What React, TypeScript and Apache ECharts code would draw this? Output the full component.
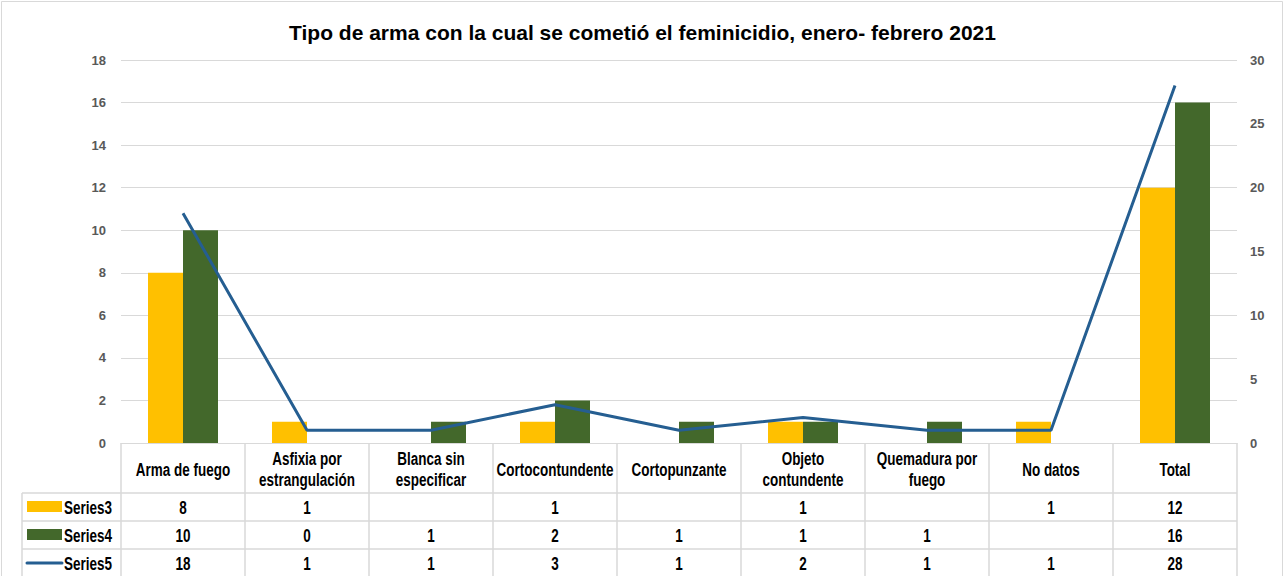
import React, { useEffect, useRef } from "react";
import * as echarts from "echarts";

const TITLE = "Tipo de arma con la cual se cometió el feminicidio, enero- febrero 2021";
const categories = [
  "Arma de fuego",
  "Asfixia por\nestrangulación",
  "Blanca sin\nespecificar",
  "Cortocontundente",
  "Cortopunzante",
  "Objeto\ncontundente",
  "Quemadura por\nfuego",
  "No datos",
  "Total",
];
const seriesNames = ["Series3", "Series4", "Series5"];
const series3: (number | null)[] = [8, 1, null, 1, null, 1, null, 1, 12];
const series4: (number | null)[] = [10, 0, 1, 2, 1, 1, 1, null, 16];
const series5: (number | null)[] = [18, 1, 1, 3, 1, 2, 1, 1, 28];

const YELLOW = "#FFC000";
const GREEN = "#43682B";
const BLUE = "#255E91";
const GRID = "#D9D9D9";
const TABLE_FONT = "'Liberation Sans', Arial, sans-serif";
const AXIS_FONT = "'Liberation Sans', 'Open Sans', sans-serif";
const SQUEEZE = 0.71;

export default function App() {
  const ref = useRef<HTMLDivElement>(null);
  useEffect(() => {
    if (!ref.current) return;
    const chart = echarts.init(ref.current, undefined, { renderer: "svg" });
    const axisLabel = {
      color: "#595959",
      fontSize: 13,
      fontWeight: "bold" as const,
      fontFamily: AXIS_FONT,
    };
    chart.setOption({
      animation: false,
      backgroundColor: "#fff",
      title: {
        text: TITLE,
        left: "center",
        top: 17,
        textStyle: { fontSize: 21, fontWeight: "bold", color: "#000", fontFamily: AXIS_FONT },
      },
      grid: { left: 121, right: 48, top: 60, bottom: 133 },
      xAxis: {
        type: "category",
        data: categories,
        axisLabel: { show: false },
        axisTick: { show: false },
        axisLine: { lineStyle: { color: GRID, width: 1 } },
      },
      yAxis: [
        {
          type: "value",
          min: 0,
          max: 18,
          interval: 2,
          axisLabel: { ...axisLabel, margin: 15 },
          splitLine: { lineStyle: { color: GRID, width: 1 } },
          axisLine: { show: false },
          axisTick: { show: false },
        },
        {
          type: "value",
          min: 0,
          max: 30,
          interval: 5,
          axisLabel: { ...axisLabel, margin: 13 },
          splitLine: { show: false },
          axisLine: { show: false },
          axisTick: { show: false },
        },
      ],
      series: [
        { name: seriesNames[0], type: "bar", data: series3, barWidth: 35, barGap: "0%", itemStyle: { color: YELLOW } },
        { name: seriesNames[1], type: "bar", data: series4, barWidth: 35, barGap: "0%", itemStyle: { color: GREEN } },
        {
          name: seriesNames[2],
          type: "line",
          yAxisIndex: 1,
          data: series5,
          symbol: "none",
          lineStyle: { color: BLUE, width: 3 },
        },
      ],
    });

    // Data table below the axis
    const c0 = chart.convertToPixel({ xAxisIndex: 0 }, 0) as number;
    const c1 = chart.convertToPixel({ xAxisIndex: 0 }, 1) as number;
    const band = c1 - c0;
    const y0 = Math.round(chart.convertToPixel({ yAxisIndex: 0 }, 0) as number);
    const leftEdge = Math.round(c0 - band / 2);
    const rightEdge = Math.round(c0 + band * (categories.length - 0.5));
    const headerH = 50;
    const rowH = 28;
    const tableLeft = 22;
    const rows = [series3, series4, series5];
    const g: any[] = [];
    const lineStyle = { stroke: GRID, lineWidth: 1.5 };
    const bottom = y0 + headerH + rowH * 3 + 5;
    g.push({ type: "rect", shape: { x: 1.5, y: 1.5, width: 1281, height: 580 }, style: { fill: "none", stroke: GRID, lineWidth: 1 }, silent: true });
    for (let r = 0; r <= rows.length; r++) {
      const y = y0 + headerH + r * rowH;
      g.push({ type: "line", shape: { x1: tableLeft, y1: y, x2: rightEdge, y2: y }, style: lineStyle });
    }
    g.push({ type: "line", shape: { x1: tableLeft, y1: y0 + headerH, x2: tableLeft, y2: bottom }, style: lineStyle });
    for (let i = 0; i <= categories.length; i++) {
      const x = Math.round(leftEdge + i * band);
      g.push({ type: "line", shape: { x1: x, y1: y0, x2: x, y2: bottom }, style: lineStyle });
    }
    const textEl = (text: string, x: number, y: number, align: string, fontSize: number) => ({
      type: "text",
      x,
      y,
      scaleX: SQUEEZE,
      style: {
        text,
        fill: "#000",
        fontSize,
        fontWeight: "bold",
        fontFamily: TABLE_FONT,
        align,
        verticalAlign: "middle",
        lineHeight: 21,
      },
    });
    categories.forEach((cat, i) => {
      const cx = chart.convertToPixel({ xAxisIndex: 0 }, i) as number;
      g.push(textEl(cat, cx, y0 + headerH / 2 + 1, "center", 19));
    });
    rows.forEach((vals, r) => {
      const cy = y0 + headerH + r * rowH + rowH / 2;
      vals.forEach((v, i) => {
        if (v === null) return;
        const cx = chart.convertToPixel({ xAxisIndex: 0 }, i) as number;
        g.push(textEl(String(v), cx, cy, "center", 19));
      });
      if (r === 0 || r === 1) {
        g.push({ type: "rect", shape: { x: 27, y: cy - 6, width: 35, height: 11 }, style: { fill: r === 0 ? YELLOW : GREEN } });
      } else {
        g.push({ type: "line", shape: { x1: 27, y1: cy, x2: 62, y2: cy }, style: { stroke: BLUE, lineWidth: 3, lineCap: "round" } });
      }
      g.push(textEl(seriesNames[r], 64, cy, "left", 19));
    });
    chart.setOption({ graphic: g });

    return () => chart.dispose();
  }, []);
  return (
    <div
      ref={ref}
      style={{ position: "fixed", left: 0, top: 0, width: 1285, height: 576 }}
    />
  );
}
